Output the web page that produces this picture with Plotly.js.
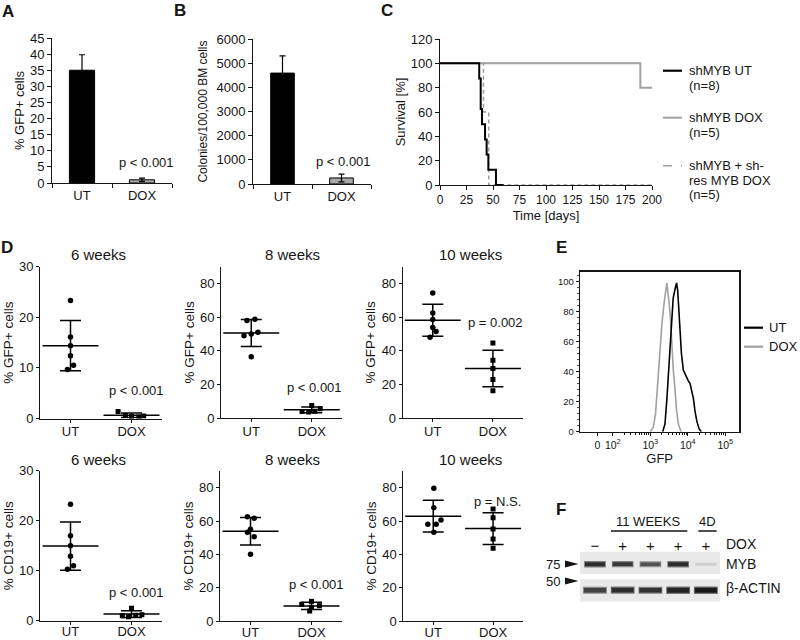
<!DOCTYPE html>
<html><head><meta charset="utf-8">
<script src="https://cdn.plot.ly/plotly-3.0.1.min.js"></script>
<style>html,body{margin:0;padding:0;background:#fff}#chart{width:800px;height:640px}</style>
</head><body><div id="chart"></div>
<script>
// ================= DATA =================
// Panel A / B
const groupsAB = ['UT', 'DOX'];
const gfpPctMean = [35.0, 1.0];
const gfpPctErr = [4.8, 0.5];
const coloniesMean = [4590, 250];
const coloniesErr = [710, 160];
const abPvals = ['p < 0.001', 'p < 0.001'];

// Panel C (Kaplan-Meier steps)
const survUTDays = [0, 37, 38.4, 39.6, 42.5, 44, 45.6, 52.8, 60];
const survUTPct = [100, 87.5, 62.5, 50, 37.5, 25, 12.5, 0, 0];
const survDOXDays = [0, 189, 200];
const survDOXPct = [100, 80, 80];
const survResDays = [0, 41, 46, 200];
const survResPct = [100, 60, 0, 0];
const survLegend = [['shMYB UT', '(n=8)'], ['shMYB DOX', '(n=5)'], ['shMYB + sh-', 'res MYB DOX', '(n=5)']];

// Panel D (individual mice), jitter = horizontal offset of each dot
const dCategories = ['UT', 'DOX'];
const gfp6wUT = [23.3, 16.1, 14.4, 12.4, 10.5, 9.7];
const gfp6wUTJit = [0, 0, 0, 0, 0.05, -0.05];
const gfp6wDOX = [1.4, 0.6, 0.4, 0.3, 0.5];
const gfp6wDOXJit = [-0.22, -0.1, 0.0, 0.12, 0.2];
const gfp8wUT = [58.0, 58.8, 49.0, 50.0, 51.0, 36.5];
const gfp8wUTJit = [-0.07, 0.06, -0.12, 0, 0.11, 0];
const gfp8wDOX = [7.5, 5.5, 3.8, 3.5, 4.0];
const gfp8wDOXJit = [0, 0.14, -0.16, -0.05, 0.05];
const gfp10wUT = [74.4, 62.5, 58.6, 53.8, 51.5, 48.1];
const gfp10wUTJit = [0, 0, 0, 0, 0.055, -0.045];
const gfp10wDOX = [44.6, 34.3, 29.4, 22.9, 16.2];
const gfp10wDOXJit = [0, 0, 0, 0, 0];
const cd19_6wUT = [23.3, 17.0, 15.0, 12.9, 11.0, 10.3];
const cd19_6wUTJit = [0, 0, 0, 0, 0.05, -0.05];
const cd19_6wDOX = [2.5, 1.0, 0.8, 1.1, 1.2];
const cd19_6wDOXJit = [0, -0.15, -0.05, 0.07, 0.17];
const cd19_8wUT = [62.6, 61.6, 55.0, 53.2, 50.6, 40.0];
const cd19_8wUTJit = [-0.05, 0.06, 0, -0.05, 0.06, 0];
const cd19_8wDOX = [11.8, 10.0, 9.2, 8.2, 6.0];
const cd19_8wDOXJit = [0, -0.16, 0.13, 0, -0.03];
const cd19_10wUT = [79.6, 68.0, 60.6, 58.0, 58.0, 53.2];
const cd19_10wUTJit = [0.01, 0.01, 0.13, -0.09, 0.05, 0.01];
const cd19_10wDOX = [67.2, 62.0, 55.2, 49.2, 43.6];
const cd19_10wDOXJit = [0, 0, 0, 0, 0];
const dTitles = ['6 weeks', '8 weeks', '10 weeks', '6 weeks', '8 weeks', '10 weeks'];
const dPvals = ['p < 0.001', 'p < 0.001', 'p = 0.002', 'p < 0.001', 'p < 0.001', 'p = N.S.'];

// Panel E (flow histogram, x in log10 GFP units)
const histDOXx = [3.00, 3.08, 3.14, 3.19, 3.25, 3.31, 3.37, 3.44, 3.50, 3.53, 3.57, 3.61, 3.66, 3.70, 3.75, 3.82];
const histDOXy = [0, 3, 12, 32, 55, 72, 86, 99, 86, 78, 61, 42, 28, 14, 5, 0];
const histUTx = [3.33, 3.39, 3.44, 3.48, 3.525, 3.57, 3.61, 3.66, 3.70, 3.73, 3.76, 3.79, 3.83, 3.88, 3.93, 3.98, 4.01, 4.06, 4.10, 4.15, 4.19, 4.24, 4.30, 4.36];
const histUTy = [0, 5, 21, 36, 54, 75, 89, 95, 99, 94, 80, 62, 52, 41, 38, 36, 34, 32, 28, 22, 14, 7, 2, 0];
const eTickText = ['0', '10<sup>2</sup>', '10<sup>3</sup>', '10<sup>4</sup>', '10<sup>5</sup>'];
const eTickVals = [1.587, 2, 3, 4, 5];

// Panel F (western blot)
const doxLanes = ['\u2212', '+', '+', '+', '+'];
const mybIntensity = [0.9, 0.85, 0.72, 0.9, 0.12];
const actinIntensity = [0.8, 0.9, 0.88, 0.95, 1.0];

// ================= HELPERS =================
const fontFam = 'Liberation Sans, Arial, Helvetica, sans-serif';
const ink = '#151515';
const X = px => px / 800;
const Y = py => 1 - py / 640;
const mean = a => a.reduce((s, v) => s + v, 0) / a.length;
const sd = a => { const m = mean(a); return Math.sqrt(a.reduce((s, v) => s + (v - m) * (v - m), 0) / (a.length - 1)); };

function baseAxis(d0, d1, extra) {
  return Object.assign({
    domain: [d0, d1], showline: true, linecolor: ink, linewidth: 1,
    ticks: 'outside', ticklen: 4, tickwidth: 1, tickcolor: ink,
    showgrid: false, zeroline: false, fixedrange: true, tickangle: 0,
    tickfont: {family: fontFam, size: 13, color: ink}
  }, extra);
}

const traces = [];
const layout = {
  width: 800, height: 640, margin: {l: 0, r: 0, t: 0, b: 0},
  paper_bgcolor: '#fff', plot_bgcolor: 'rgba(0,0,0,0)', showlegend: false,
  font: {family: fontFam, size: 13, color: ink},
  shapes: [], annotations: []
};
function ann(text, px, py, opts) {
  layout.annotations.push(Object.assign({
    text, x: X(px), y: Y(py), xref: 'paper', yref: 'paper', showarrow: false,
    xanchor: 'center', yanchor: 'middle', font: {family: fontFam, size: 13, color: ink}
  }, opts || {}));
}

// ================= PANEL A =================
traces.push({type: 'bar', x: groupsAB, y: gfpPctMean, xaxis: 'x', yaxis: 'y', width: 0.42,
  marker: {color: ['#000', '#a8a8a8'], line: {color: '#000', width: 1}},
  error_y: {type: 'data', array: gfpPctErr, color: '#000', thickness: 1.2, width: 3}});
layout.xaxis = baseAxis(X(52), X(172), {anchor: 'y', type: 'category', range: [-0.5, 1.5], tickson: 'boundaries'});
layout.yaxis = baseAxis(Y(183), Y(38), {anchor: 'x', range: [0, 45], dtick: 5,
  title: {text: '% GFP+ cells', font: {size: 13}, standoff: 2}});
ann(abPvals[0], 146.5, 163);

// ================= PANEL B =================
traces.push({type: 'bar', x: groupsAB, y: coloniesMean, xaxis: 'x2', yaxis: 'y2', width: 0.4,
  marker: {color: ['#000', '#a8a8a8'], line: {color: '#000', width: 1}},
  error_y: {type: 'data', array: coloniesErr, color: '#000', thickness: 1.2, width: 3}});
layout.xaxis2 = baseAxis(X(253), X(371), {anchor: 'y2', type: 'category', range: [-0.5, 1.5], tickson: 'boundaries'});
layout.yaxis2 = baseAxis(Y(184), Y(39), {anchor: 'x2', range: [0, 6000], dtick: 1000,
  title: {text: 'Colonies/100,000 BM cells', font: {size: 12}, standoff: 6}});
ann(abPvals[1], 343, 161);

// ================= PANEL C =================
traces.push({type: 'scatter', mode: 'lines', x: survResDays, y: survResPct, xaxis: 'x3', yaxis: 'y3',
  line: {shape: 'hv', color: '#a0a0a0', width: 1.5, dash: '4px,3px'}});
traces.push({type: 'scatter', mode: 'lines', x: survDOXDays, y: survDOXPct, xaxis: 'x3', yaxis: 'y3',
  line: {shape: 'hv', color: '#a0a0a0', width: 2}});
traces.push({type: 'scatter', mode: 'lines', x: survUTDays, y: survUTPct, xaxis: 'x3', yaxis: 'y3',
  line: {shape: 'hv', color: '#000', width: 2}});
layout.xaxis3 = baseAxis(X(440), X(652), {anchor: 'y3', range: [0, 200], dtick: 25,
  tickfont: {family: fontFam, size: 12, color: ink},
  title: {text: 'Time [days]', font: {size: 13}, standoff: 4}});
layout.yaxis3 = baseAxis(Y(185), Y(39), {anchor: 'x3', range: [0, 120], dtick: 20,
  title: {text: 'Survival [%]', font: {size: 13}, standoff: 2}});
const legStyles = [{color: '#000', width: 2.2}, {color: '#a0a0a0', width: 2}, {color: '#a0a0a0', width: 1.5, dash: 'dash'}];
const legY = [70.7, 117.7, 165.7];
survLegend.forEach((lines, i) => {
  layout.shapes.push({type: 'line', xref: 'paper', yref: 'paper', x0: X(663), x1: X(682), y0: Y(legY[i]), y1: Y(legY[i]), line: legStyles[i]});
  lines.forEach((t, j) => ann(t, 686.5, legY[i] + j * 14.5, {xanchor: 'left'}));
});

// ================= PANEL D =================
const dData = [
  [gfp6wUT, gfp6wUTJit, gfp6wDOX, gfp6wDOXJit],
  [gfp8wUT, gfp8wUTJit, gfp8wDOX, gfp8wDOXJit],
  [gfp10wUT, gfp10wUTJit, gfp10wDOX, gfp10wDOXJit],
  [cd19_6wUT, cd19_6wUTJit, cd19_6wDOX, cd19_6wDOXJit],
  [cd19_8wUT, cd19_8wUTJit, cd19_8wDOX, cd19_8wDOXJit],
  [cd19_10wUT, cd19_10wUTJit, cd19_10wDOX, cd19_10wDOXJit]
];
const dGeom = [
  {x: [40, 162], y: [418.5, 266.7], max: 30, tv: [0, 10, 20, 30], ytitle: '% GFP+ cells', title: [98, 254], p: [136, 390], so: -2},
  {x: [221, 342], y: [418, 266.7], max: 90, tv: [0, 20, 40, 60, 80], ytitle: '% GFP+ cells', title: [292, 254], p: [314, 387.5], so: -2},
  {x: [402.7, 523], y: [418, 266.7], max: 90, tv: [0, 20, 40, 60, 80], ytitle: '% GFP+ cells', title: [470.5, 254], p: [495.5, 322.5], so: -2},
  {x: [40, 162], y: [620.7, 470.7], max: 30, tv: [0, 10, 20, 30], ytitle: '% CD19+ cells', title: [98, 459], p: [136, 592.5], so: -4},
  {x: [220, 342], y: [621, 471], max: 90, tv: [0, 20, 40, 60, 80], ytitle: '% CD19+ cells', title: [292, 459], p: [316, 584], so: -4},
  {x: [403.3, 523], y: [621, 471], max: 90, tv: [0, 20, 40, 60, 80], ytitle: '% CD19+ cells', title: [470.5, 459], p: [497, 501.5], so: -4}
];
dData.forEach((d, k) => {
  const n = k + 4, xa = 'x' + n, ya = 'y' + n, g = dGeom[k];
  const groups = [[d[0], d[1], 'circle'], [d[2], d[3], 'square']];
  groups.forEach(([vals, jit, sym], gi) => {
    traces.push({type: 'scatter', mode: 'markers', xaxis: xa, yaxis: ya,
      x: vals.map((v, i) => gi + jit[i]), y: vals,
      marker: {symbol: sym, size: sym === 'circle' ? 5.5 : 5, color: '#000'}});
    traces.push({type: 'scatter', mode: 'markers', xaxis: xa, yaxis: ya,
      x: [gi], y: [mean(vals)],
      marker: {symbol: 'line-ew', size: 40, color: '#000', line: {color: '#000', width: 1.5}},
      error_y: {type: 'data', array: [sd(vals)], color: '#000', thickness: 1.5, width: 10.5}});
  });
  layout['xaxis' + n] = baseAxis(X(g.x[0]), X(g.x[1]), {anchor: ya, range: [-0.5, 1.5],
    tickmode: 'array', tickvals: [0, 1], ticktext: dCategories, ticklen: 3, ticklabelstandoff: g.so});
  layout['yaxis' + n] = baseAxis(Y(g.y[0]), Y(g.y[1]), {anchor: xa, range: [0, g.max],
    tickmode: 'array', tickvals: g.tv, ticklen: 3,
    title: {text: g.ytitle, font: {size: 13.5}, standoff: 2}});
  ann(dTitles[k], g.title[0], g.title[1], {font: {family: fontFam, size: 15, color: ink}});
  ann(dPvals[k], g.p[0], g.p[1]);
});

// ================= PANEL E =================
traces.push({type: 'scatter', mode: 'lines', x: histDOXx, y: histDOXy, xaxis: 'x10', yaxis: 'y10',
  line: {color: '#a0a0a0', width: 1.6}});
traces.push({type: 'scatter', mode: 'lines', x: histUTx, y: histUTy, xaxis: 'x10', yaxis: 'y10',
  line: {color: '#000', width: 1.6}});
const eMinor = [];
[2, 3, 4].forEach(dd => { for (let m = 2; m <= 9; m++) eMinor.push(dd + Math.log10(m)); });
layout.xaxis10 = baseAxis(X(580), X(739.3), {anchor: 'y10', range: [1.125, 5.373], mirror: true,
  tickmode: 'array', tickvals: eTickVals, ticktext: eTickText, ticklen: 3, linewidth: 1.3,
  tickfont: {family: fontFam, size: 10.5, color: ink},
  minor: {tickmode: 'array', tickvals: eMinor, ticks: 'outside', ticklen: 2, tickcolor: ink},
  title: {text: 'GFP', font: {size: 13}, standoff: 2}});
layout.yaxis10 = baseAxis(Y(431.7), Y(271.7), {anchor: 'x10', range: [0, 106.5], mirror: true,
  tickmode: 'array', tickvals: [0, 20, 40, 60, 80, 100], ticklen: 3, linewidth: 1.3,
  tickfont: {family: fontFam, size: 9.5, color: ink},
  minor: {dtick: 4, ticks: 'outside', ticklen: 2, tickcolor: '#555'}});
[['UT', '#000', 327.7], ['DOX', '#a0a0a0', 346.7]].forEach(([t, c, py]) => {
  layout.shapes.push({type: 'line', xref: 'paper', yref: 'paper', x0: X(744), x1: X(763), y0: Y(py), y1: Y(py), line: {color: c, width: 2.2}});
  ann(t, 767, py, {xanchor: 'left', font: {family: fontFam, size: 13, color: ink}});
});

// ================= PANEL F =================
layout.shapes.push({type: 'rect', xref: 'paper', yref: 'paper', x0: X(580), x1: X(720), y0: Y(574), y1: Y(551.7), fillcolor: '#e9e9e9', line: {width: 0}, layer: 'below'});
layout.shapes.push({type: 'rect', xref: 'paper', yref: 'paper', x0: X(580), x1: X(720), y0: Y(601.7), y1: Y(579.3), fillcolor: '#e9e9e9', line: {width: 0}, layer: 'below'});
function bands(intens, yRow, half, baseW) {
  intens.forEach((v, i) => {
    const g1 = Math.round(232 - 120 * v), g2 = Math.round(225 - 200 * v);
    traces.push({type: 'scatter', mode: 'lines', xaxis: 'x11', yaxis: 'y11', x: [i - half - 0.03, i + half + 0.03], y: [yRow, yRow],
      line: {color: `rgb(${g1},${g1},${g1})`, width: baseW + 3 * v + 2.5}});
    traces.push({type: 'scatter', mode: 'lines', xaxis: 'x11', yaxis: 'y11', x: [i - half, i + half], y: [yRow, yRow],
      line: {color: `rgb(${g2},${g2},${g2})`, width: baseW + 3 * v}});
  });
}
bands(mybIntensity, 0.75, 0.36, 1.2);
bands(actinIntensity, 0.23, 0.4, 2.0);
layout.xaxis11 = {domain: [X(580), X(720)], anchor: 'y11', range: [-0.54, 4.51], side: 'top', showline: false, ticks: '',
  tickmode: 'array', tickvals: [0, 1, 2, 3, 4], ticktext: doxLanes, showgrid: false, zeroline: false, fixedrange: true,
  tickfont: {family: fontFam, size: 15, color: ink}, ticklabelstandoff: -3};
layout.yaxis11 = {domain: [Y(601.7), Y(551.7)], anchor: 'x11', range: [0, 1], visible: false, fixedrange: true};
ann('11 WEEKS', 648.3, 521);
ann('4D', 707.7, 521);
layout.shapes.push({type: 'line', xref: 'paper', yref: 'paper', x0: X(611), x1: X(687.3), y0: Y(531), y1: Y(531), line: {color: ink, width: 1.5}});
layout.shapes.push({type: 'line', xref: 'paper', yref: 'paper', x0: X(698.3), x1: X(716.7), y0: Y(531), y1: Y(531), line: {color: ink, width: 1.5}});
ann('DOX', 724, 544, {xanchor: 'left', font: {family: fontFam, size: 14, color: ink}});
ann('MYB', 724, 563.5, {xanchor: 'left', font: {family: fontFam, size: 14, color: ink}});
ann('\u03b2-ACTIN', 724, 588, {xanchor: 'left', font: {family: fontFam, size: 14, color: ink}});
[['75', 564], ['50', 581]].forEach(([t, py]) => {
  ann(t, 553.3, py, {font: {family: fontFam, size: 13, color: ink}});
  layout.shapes.push({type: 'path', xref: 'paper', yref: 'paper',
    path: `M ${X(565)} ${Y(py - 3.5)} L ${X(578.5)} ${Y(py)} L ${X(565)} ${Y(py + 3.5)} Z`, fillcolor: ink, line: {width: 0}});
});

// ================= PANEL LETTERS =================
[['A', 8, 11], ['B', 180, 10], ['C', 386.5, 10], ['D', 7, 248], ['E', 561, 247.5], ['F', 561, 509]].forEach(([t, px, py]) =>
  ann('<b>' + t + '</b>', px, py, {font: {family: fontFam, size: 17, color: ink}}));

Plotly.newPlot('chart', traces, layout, {displayModeBar: false, staticPlot: true});
</script></body></html>
